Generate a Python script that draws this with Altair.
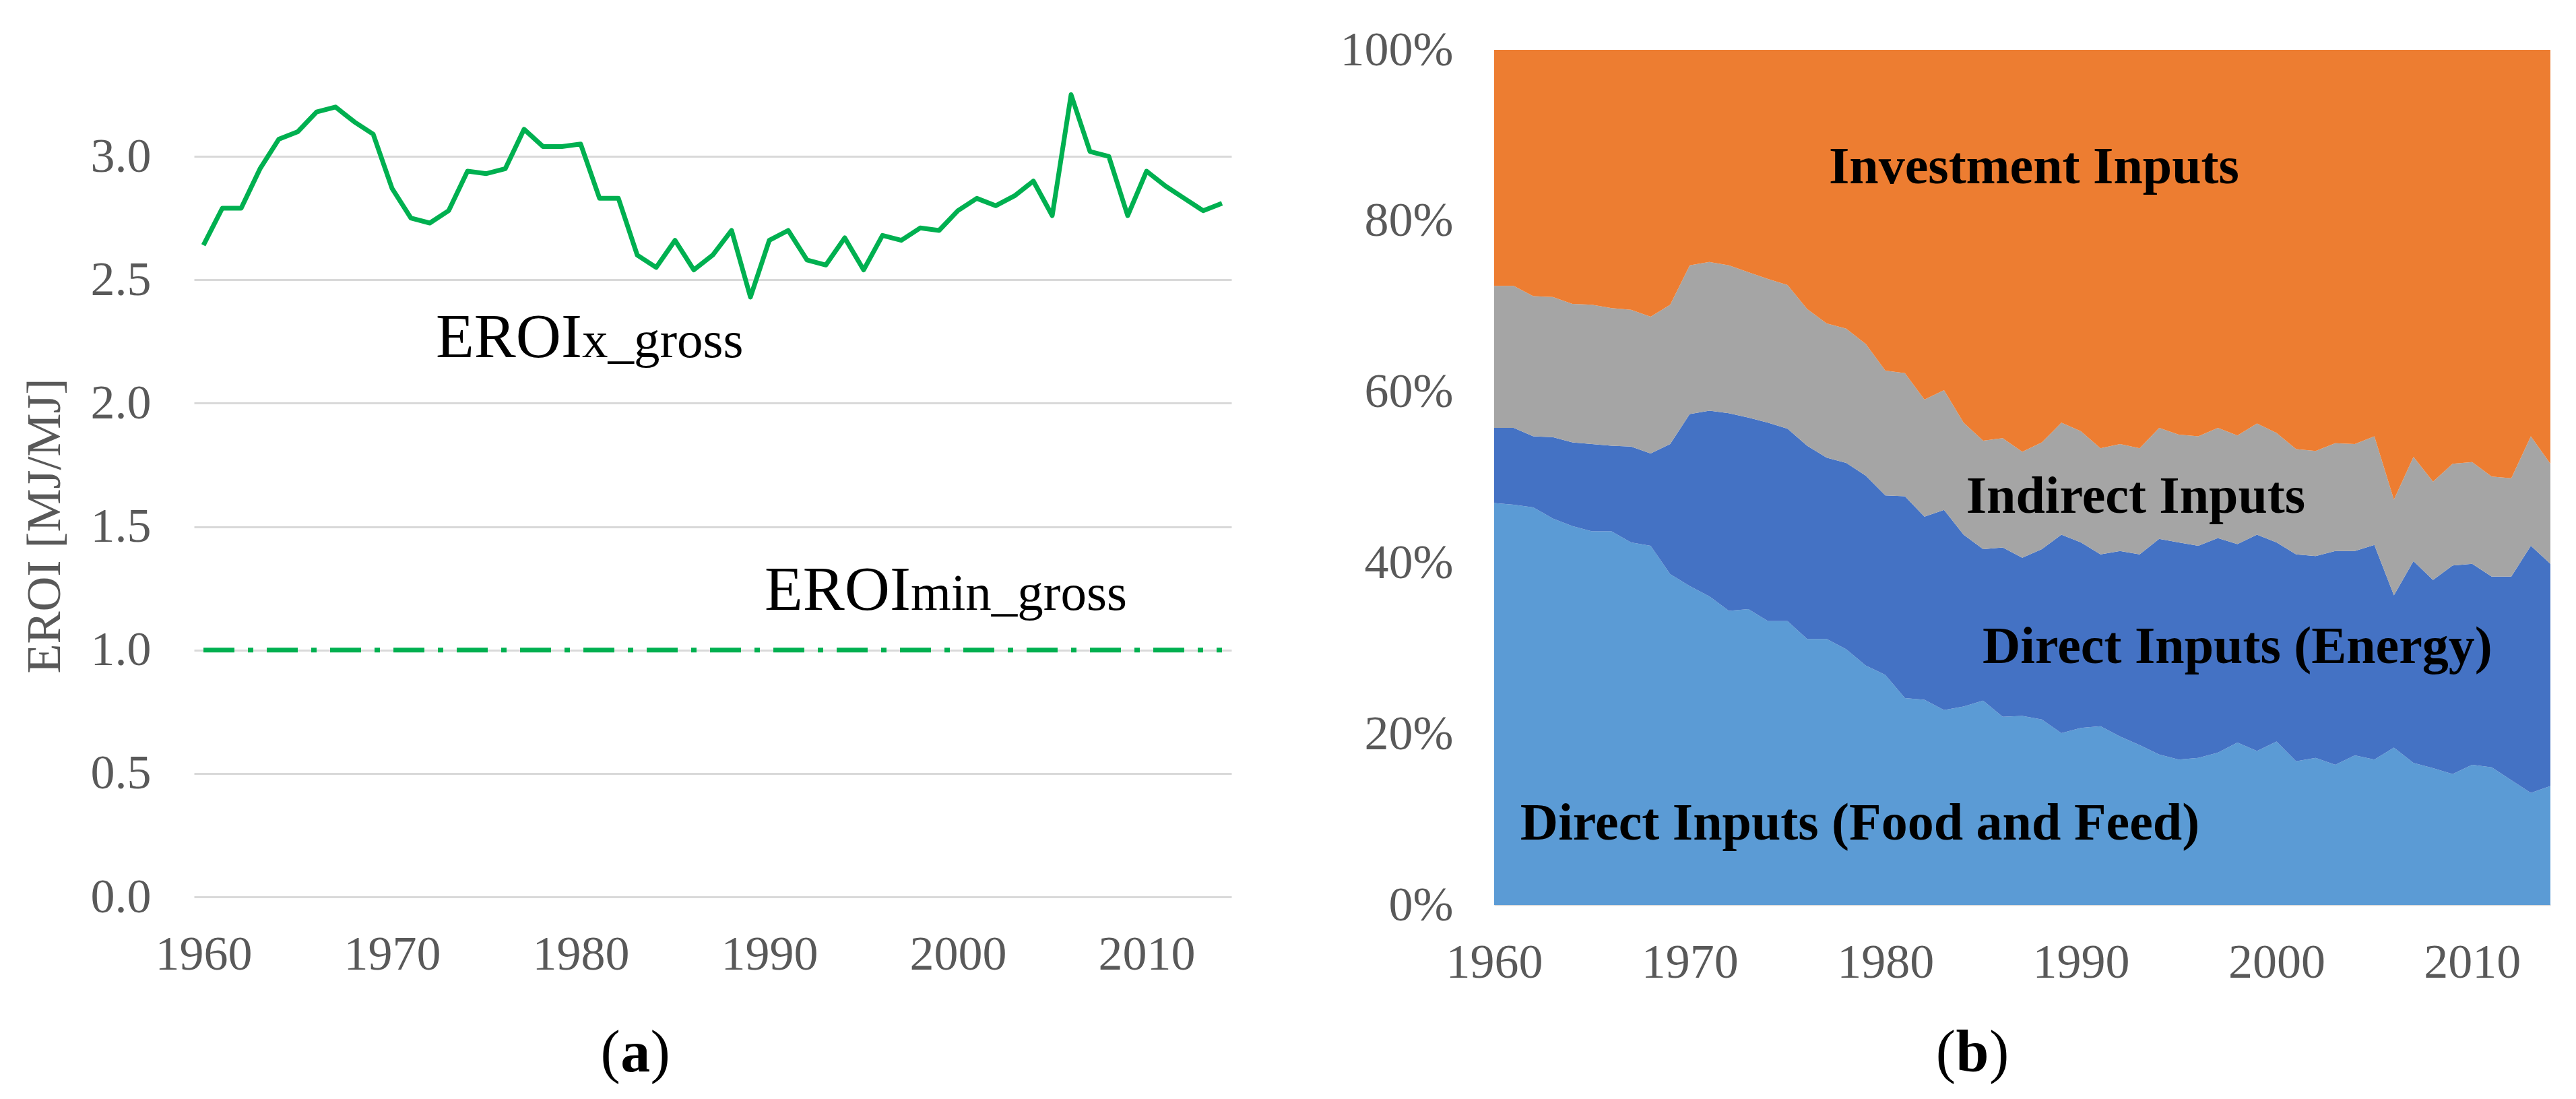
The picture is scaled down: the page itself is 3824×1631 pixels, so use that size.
import altair as alt
import pandas as pd

# ---------------- data ----------------
years = list(range(1960, 2015))

eroi_x_gross = [2.64, 2.79, 2.79, 2.95, 3.07, 3.10, 3.18, 3.20, 3.14, 3.09,
                2.87, 2.75, 2.73, 2.78, 2.94, 2.93, 2.95, 3.11, 3.04, 3.04,
                3.05, 2.83, 2.83, 2.60, 2.55, 2.66, 2.54, 2.60, 2.70, 2.43,
                2.66, 2.70, 2.58, 2.56, 2.67, 2.54, 2.68, 2.66, 2.71, 2.70,
                2.78, 2.83, 2.80, 2.84, 2.90, 2.76, 3.25, 3.02, 3.00, 2.76,
                2.94, 2.88, 2.83, 2.78, 2.81]

eroi_min_years = [1960, 2014]
eroi_min_gross = [1.0, 1.0]

# shares in % (b)
food = [47.0, 46.8, 46.5, 45.2, 44.3, 43.7, 43.7, 42.4, 42.0, 38.7,
        37.3, 36.1, 34.4, 34.6, 33.2, 33.2, 31.1, 31.1, 29.9, 28.0,
        26.9, 24.2, 24.0, 22.8, 23.2, 23.9, 22.0, 22.1, 21.7, 20.1,
        20.7, 20.9, 19.7, 18.7, 17.6, 17.0, 17.2, 17.8, 19.0, 18.0,
        19.1, 16.8, 17.2, 16.4, 17.5, 17.0, 18.4, 16.6, 16.0, 15.3,
        16.4, 16.1, 14.6, 13.1, 13.9]
energy = [8.8, 9.0, 8.3, 9.5, 9.8, 10.2, 10.0, 11.2, 10.8, 15.2,
          20.1, 21.7, 23.1, 22.4, 23.2, 22.5, 22.6, 21.2, 21.8, 22.2,
          21.0, 23.6, 21.4, 23.4, 20.1, 17.7, 19.8, 18.5, 19.9, 23.2,
          21.7, 20.1, 21.7, 22.3, 25.2, 25.4, 24.8, 25.1, 23.2, 25.3,
          23.3, 24.2, 23.6, 25.0, 23.9, 25.1, 17.8, 23.6, 22.0, 24.4,
          23.5, 22.3, 23.8, 28.9, 26.0]
indirect = [16.6, 16.6, 16.4, 16.4, 16.2, 16.3, 16.1, 16.0, 16.0, 16.3,
            17.4, 17.4, 17.3, 17.0, 16.8, 16.8, 16.0, 15.7, 15.7, 15.4,
            14.6, 14.4, 13.7, 14.0, 13.1, 12.7, 12.8, 12.4, 12.5, 13.1,
            13.0, 12.4, 12.5, 12.4, 13.0, 12.6, 12.8, 12.9, 12.7, 13.0,
            12.8, 12.3, 12.3, 12.6, 12.5, 12.7, 11.2, 12.2, 11.5, 11.9,
            11.9, 11.7, 11.5, 12.8, 11.7]
investment = [27.6, 27.6, 28.8, 28.9, 29.7, 29.8, 30.2, 30.4, 31.2, 29.8,
              25.2, 24.8, 25.2, 26.0, 26.8, 27.5, 30.3, 32.0, 32.6, 34.4,
              37.5, 37.8, 40.9, 39.8, 43.6, 45.7, 45.4, 47.0, 45.9, 43.6,
              44.6, 46.6, 46.1, 46.6, 44.2, 45.0, 45.2, 44.2, 45.1, 43.7,
              44.8, 46.7, 46.9, 46.0, 46.1, 45.2, 52.6, 47.6, 50.5, 48.4,
              48.2, 49.9, 50.1, 45.2, 48.4]

series_names = ["Direct Inputs (Food and Feed)", "Direct Inputs (Energy)",
                "Indirect Inputs", "Investment Inputs"]
series_colors = ["#5B9BD5", "#4472C4", "#A5A5A5", "#ED7D31"]

x_ticks = [1960, 1970, 1980, 1990, 2000, 2010]
y_ticks_a = [0.0, 0.5, 1.0, 1.5, 2.0, 2.5, 3.0]
y_ticks_b = [0.0, 0.2, 0.4, 0.6, 0.8, 1.0]

# annotation texts (a): main part + smaller suffix, joined at x
ann_a_main = ["EROI", "EROI"]
ann_a_sub = ["x_gross", "min_gross"]
ann_a_x = [1980.07, 1997.5]
ann_a_y = [2.187, 1.163]

# annotation texts (b)
ann_b_text = ["Investment Inputs", "Indirect Inputs",
              "Direct Inputs (Energy)", "Direct Inputs (Food and Feed)"]
ann_b_x = [1987.6, 1992.8, 1998.0, 1978.7]
ann_b_y = [0.844, 0.459, 0.283, 0.0764]

# panel captions "(a)" / "(b)": letter bold, parentheses regular
cap_a_letter, cap_a_x, cap_a_y, cap_a_halfw = "a", 1982.9, -0.707, 0.80
cap_b_letter, cap_b_x, cap_b_y, cap_b_halfw = "b", 1984.45, -0.1946, 0.86

# ---------------- styling ----------------
FONT = "Liberation Serif"
GRAY = "#595959"
GREEN = "#00B050"
LBL = 72
CAP = 88

W_A, H_A = 1540, 1257
W_B, H_B = 1568, 1269

df_line = pd.DataFrame({"year": years, "eroi": eroi_x_gross})
df_min = pd.DataFrame({"year": eroi_min_years, "eroi": eroi_min_gross})
df_ann_a = pd.DataFrame({"x": ann_a_x, "y": ann_a_y, "main": ann_a_main, "sub": ann_a_sub})

rows = []
for i, y in enumerate(years):
    for k, (name, vals) in enumerate(zip(series_names, [food, energy, indirect, investment])):
        rows.append({"year": y, "series": name, "share": vals[i], "order": k})
df_area = pd.DataFrame(rows)
df_ann_b = pd.DataFrame({"x": ann_b_x, "y": ann_b_y, "text": ann_b_text})


def caption(letter, xc, yc, halfw, xs, ys):
    d_mid = pd.DataFrame({"x": [xc], "y": [yc], "t": [letter]})
    d_par = pd.DataFrame({"x": [xc - halfw, xc + halfw], "y": [yc, yc], "t": ["(", ")"],
                          "side": ["l", "r"]})
    mid = alt.Chart(d_mid).mark_text(font=FONT, fontSize=CAP, fontWeight="bold",
                                     color="black", align="center",
                                     baseline="alphabetic").encode(
        x=alt.X("x:Q", scale=xs), y=alt.Y("y:Q", scale=ys), text="t:N")
    lp = alt.Chart(d_par.iloc[[0]]).mark_text(font=FONT, fontSize=CAP, color="black",
                                              align="right", baseline="alphabetic").encode(
        x=alt.X("x:Q", scale=xs), y=alt.Y("y:Q", scale=ys), text="t:N")
    rp = alt.Chart(d_par.iloc[[1]]).mark_text(font=FONT, fontSize=CAP, color="black",
                                              align="left", baseline="alphabetic").encode(
        x=alt.X("x:Q", scale=xs), y=alt.Y("y:Q", scale=ys), text="t:N")
    return [mid, lp, rp]


# ---------------- panel (a) ----------------
xa_scale = alt.Scale(domain=[1959.5, 2014.5], nice=False, zero=False)
ya_scale = alt.Scale(domain=[0, 3.4316], nice=False, zero=True)

x_axis_a = alt.Axis(values=x_ticks, format="d", grid=False, domain=False, ticks=False,
                    labelPadding=50, labelFont=FONT, labelFontSize=LBL, labelColor=GRAY,
                    labelFlush=False, labelOverlap=False, title=None)
y_axis_a = alt.Axis(values=y_ticks_a, format=".1f", grid=True, gridColor="#D9D9D9",
                    gridWidth=3, domain=False, ticks=False, labelPadding=64,
                    labelFont=FONT, labelFontSize=LBL, labelColor=GRAY,
                    title="EROI [MJ/MJ]", titleFont=FONT, titleFontSize=72,
                    titleFontWeight="normal", titleColor=GRAY, titleAngle=270,
                    titleX=-200, titleY=706, titleAlign="center",
                    titleBaseline="alphabetic")

line = alt.Chart(df_line).mark_line(color=GREEN, strokeWidth=7, strokeJoin="round").encode(
    x=alt.X("year:Q", scale=xa_scale, axis=x_axis_a),
    y=alt.Y("eroi:Q", scale=ya_scale, axis=y_axis_a),
)
min_line = alt.Chart(df_min).mark_line(color=GREEN, strokeWidth=7,
                                       strokeDash=[46, 20, 8, 20]).encode(
    x=alt.X("year:Q", scale=xa_scale),
    y=alt.Y("eroi:Q", scale=ya_scale),
)
ann_main = alt.Chart(df_ann_a).mark_text(font=FONT, fontSize=93, color="black",
                                         align="right", baseline="alphabetic").encode(
    x=alt.X("x:Q", scale=xa_scale), y=alt.Y("y:Q", scale=ya_scale), text="main:N")
ann_sub = alt.Chart(df_ann_a).mark_text(font=FONT, fontSize=77, color="black",
                                        align="left", baseline="alphabetic").encode(
    x=alt.X("x:Q", scale=xa_scale), y=alt.Y("y:Q", scale=ya_scale), text="sub:N")

panel_a = alt.layer(line, min_line, ann_main, ann_sub,
                    *caption(cap_a_letter, cap_a_x, cap_a_y, cap_a_halfw, xa_scale, ya_scale)
                    ).properties(width=W_A, height=H_A)

# ---------------- panel (b) ----------------
xb_scale = alt.Scale(domain=[1960, 2014], nice=False, zero=False)
yb_scale = alt.Scale(domain=[0, 1], nice=False)

x_axis_b = alt.Axis(values=x_ticks, format="d", grid=False, domain=True,
                    domainColor="#D9D9D9", domainWidth=2, ticks=False,
                    labelPadding=50, labelFont=FONT, labelFontSize=LBL, labelColor=GRAY,
                    labelFlush=False, labelOverlap=False, title=None)
y_axis_b = alt.Axis(values=y_ticks_b, format=".0%", grid=False, domain=False, ticks=False,
                    labelPadding=61, labelFont=FONT, labelFontSize=LBL, labelColor=GRAY,
                    labelFlush=False, title=None)

area = alt.Chart(df_area).mark_area(opacity=1).encode(
    x=alt.X("year:Q", scale=xb_scale, axis=x_axis_b),
    y=alt.Y("share:Q", stack="normalize", scale=yb_scale, axis=y_axis_b),
    color=alt.Color("series:N", scale=alt.Scale(domain=series_names, range=series_colors),
                    legend=None),
    order=alt.Order("order:Q", sort="ascending"),
)
ann_b = alt.Chart(df_ann_b).mark_text(font=FONT, fontSize=78, fontWeight="bold",
                                      color="black", align="center",
                                      baseline="alphabetic").encode(
    x=alt.X("x:Q", scale=xb_scale), y=alt.Y("y:Q", scale=yb_scale), text="text:N")

panel_b = alt.layer(area, ann_b,
                    *caption(cap_b_letter, cap_b_x, cap_b_y, cap_b_halfw, xb_scale, yb_scale)
                    ).properties(width=W_B, height=H_B)

chart = alt.hconcat(panel_a, panel_b, spacing=161).properties(
    padding={"left": 22, "top": 30, "right": 5, "bottom": 5},
    background="white",
).configure_view(stroke=None)

chart.save("out.html", embed_options={"renderer": "svg", "actions": False})
